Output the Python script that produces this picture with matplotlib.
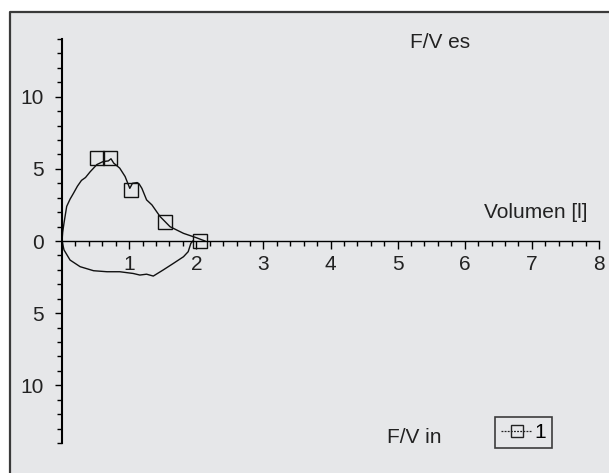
import matplotlib
matplotlib.use("Agg")
import matplotlib.pyplot as plt
from matplotlib.patches import Rectangle
from matplotlib.lines import Line2D
from matplotlib.ticker import MultipleLocator, FixedLocator, FuncFormatter

plt.rcParams['font.family'] = ['Liberation Sans', 'DejaVu Sans']

# expiration part of the loop (volume [l], flow [l/s])
exp_x = [0.0, 0.01, 0.03, 0.07, 0.12, 0.17, 0.23, 0.29, 0.35, 0.42, 0.52, 0.61, 0.69, 0.73,
         0.77, 0.86, 0.94, 0.98, 1.01, 1.05, 1.12, 1.15, 1.19, 1.26, 1.34, 1.46, 1.61, 1.81, 2.0, 2.13]
exp_y = [0.0, 0.6, 1.25, 2.4, 2.9, 3.3, 3.8, 4.2, 4.4, 4.8, 5.3, 5.5, 5.55, 5.7,
         5.4, 5.05, 4.47, 4.0, 3.65, 4.0, 4.05, 3.95, 3.65, 2.85, 2.5, 1.7, 0.99, 0.53, 0.23, 0.0]
# inspiration part
ins_x = [0.0, 0.03, 0.12, 0.27, 0.47, 0.67, 0.86, 1.06, 1.16, 1.26, 1.36, 1.51, 1.66, 1.81, 1.88, 1.92, 1.95]
ins_y = [0.0, -0.62, -1.32, -1.78, -2.06, -2.13, -2.13, -2.25, -2.36, -2.3, -2.43, -2.0, -1.55, -1.09, -0.74, -0.16, 0.0]
# square markers of series "1"
mk_x = [0.52, 0.72, 1.03, 1.53, 2.06]
mk_y = [5.76, 5.76, 3.54, 1.32, 0.0]

xticks = [1, 2, 3, 4, 5, 6, 7, 8]
yticks = [-10, -5, 0, 5, 10]

W, H = 609, 473
fig = plt.figure(figsize=(W / 100, H / 100), dpi=100)
fig.patch.set_facecolor('white')

bg = '#e6e7e9'
fig.patches.append(Rectangle((10 / W, 0), 1 - 10 / W, 1 - 12 / H, transform=fig.transFigure,
                             facecolor=bg, edgecolor='none', zorder=-10))
fig.lines.append(Line2D([10 / W, 10 / W, 1], [0, 1 - 12 / H, 1 - 12 / H], transform=fig.transFigure,
                        color='#3a3a3a', lw=1.6, zorder=-5))

ax = fig.add_axes([62 / W, 30 / H, 537 / W, 404 / H])
ax.set_facecolor('none')
ax.set_xlim(0, 8)
ax.set_ylim(-14, 14)

ax.plot(exp_x, exp_y, color='#111111', lw=1.0)
ax.plot(ins_x, ins_y, color='#111111', lw=1.0)
ax.plot(mk_x, mk_y, ls='none', marker='s', ms=9.5, mfc='none', mec='#111111', mew=1.0)

for s in ['top', 'right']:
    ax.spines[s].set_visible(False)
ax.spines['left'].set_position(('data', 0))
ax.spines['bottom'].set_position(('data', 0))
ax.spines['left'].set_linewidth(1.5)
ax.spines['bottom'].set_linewidth(1.0)

ax.xaxis.set_major_locator(FixedLocator(xticks))
ax.xaxis.set_minor_locator(MultipleLocator(0.2))
ax.yaxis.set_major_locator(FixedLocator(yticks))
ax.yaxis.set_minor_locator(MultipleLocator(1))
ax.yaxis.set_major_formatter(FuncFormatter(lambda v, p: '%d' % abs(v)))
ax.tick_params(axis='x', which='major', direction='out', length=6, width=1.0, pad=4,
               labelsize=15, labelcolor='#222222')
ax.tick_params(axis='x', which='minor', direction='out', length=3.5, width=1.0)
ax.tick_params(axis='y', which='major', direction='out', length=5, width=1.0, pad=8,
               labelsize=15, labelcolor='#222222')
ax.tick_params(axis='y', which='minor', direction='out', length=3.5, width=1.0)
for lab in ax.get_xticklabels():
    lab.set_x(lab.get_position()[0])

fig.text(440 / W, 1 - 42 / H, 'F/V es', ha='center', va='center', fontsize=15, color='#222222')
fig.text(588 / W, 1 - 213 / H, 'Volumen [l]', ha='right', va='center', fontsize=15, color='#222222')
fig.text(414 / W, 1 - 437 / H, 'F/V in', ha='center', va='center', fontsize=15, color='#222222')

handle = Line2D([], [], color='#222222', lw=0.9, ls=(0, (1.5, 1)), marker='s', ms=9,
                mfc='none', mec='#222222', mew=1.0)
leg = fig.legend([handle], ['1'], loc='center', bbox_to_anchor=(523.5 / W, 40.5 / H),
                 fontsize=15, frameon=True, fancybox=False, handlelength=1.5,
                 handletextpad=0.1, borderpad=0.3, borderaxespad=0)
leg.get_frame().set_edgecolor('#111111')
leg.get_frame().set_facecolor(bg)
leg.get_frame().set_linewidth(1.2)

fig.savefig('out.png', dpi=100, facecolor=fig.get_facecolor())
